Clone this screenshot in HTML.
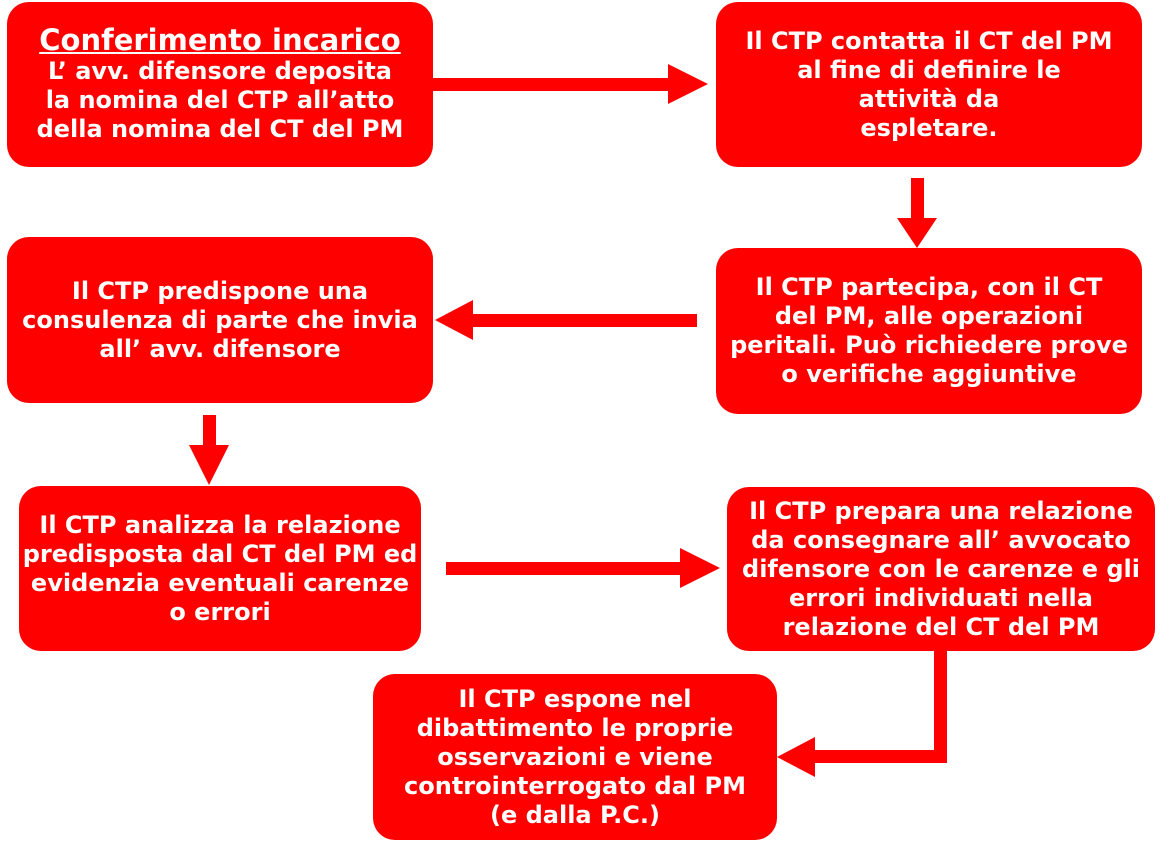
<!DOCTYPE html>
<html><head><meta charset="utf-8"><style>
body{margin:0;width:1162px;height:848px;background:#fff;position:relative;overflow:hidden;font-family:"DejaVu Sans","Liberation Sans",sans-serif;}
.b{position:absolute;background:#ff0000;border-radius:22px;color:#fff;font-weight:bold;font-size:24px;line-height:29px;display:flex;align-items:center;justify-content:center;text-align:center;box-sizing:border-box;}
.b div{white-space:nowrap}
svg{position:absolute;left:0;top:0}
</style></head><body>
<svg width="1162" height="848">
<g fill="#ff0000">
<rect x="433" y="78" width="235" height="13"/><polygon points="668,64 708,84 668,104"/>
<rect x="911" y="178" width="13" height="40"/><polygon points="897,218 937,218 917,248"/>
<rect x="473" y="314" width="224" height="13"/><polygon points="473,300 473,340 435,320"/>
<rect x="203" y="415" width="13" height="40"/><polygon points="189,445 229,445 209,485"/>
<rect x="446" y="562" width="234" height="13"/><polygon points="680,548 720,568 680,588"/>
<rect x="934" y="650" width="13" height="113"/><rect x="815" y="750" width="132" height="13"/><polygon points="815,737 815,777 777,757"/>
</g></svg>
<div class="b" style="left:7px;top:2px;width:426px;height:165px"><div><span style="text-decoration:underline;font-size:29px">Conferimento incarico</span><br>L’ avv. difensore deposita<br>la nomina del CTP all’atto<br>della nomina del CT del PM</div></div>
<div class="b" style="left:716px;top:2px;width:426px;height:165px"><div>Il CTP contatta il CT del PM<br>al fine di definire le<br>attività da<br>espletare.</div></div>
<div class="b" style="left:7px;top:237px;width:426px;height:166px"><div>Il CTP predispone una<br>consulenza di parte che invia<br>all’ avv. difensore</div></div>
<div class="b" style="left:716px;top:248px;width:426px;height:166px"><div>Il CTP partecipa, con il CT<br>del PM, alle operazioni<br>peritali. Può richiedere prove<br>o verifiche aggiuntive</div></div>
<div class="b" style="left:19px;top:486px;width:402px;height:165px"><div>Il CTP analizza la relazione<br>predisposta dal CT del PM ed<br>evidenzia eventuali carenze<br>o errori</div></div>
<div class="b" style="left:727px;top:487px;width:428px;height:164px"><div>Il CTP prepara una relazione<br>da consegnare all’ avvocato<br>difensore con le carenze e gli<br>errori individuati nella<br>relazione del CT del PM</div></div>
<div class="b" style="left:373px;top:674px;width:404px;height:166px"><div>Il CTP espone nel<br>dibattimento le proprie<br>osservazioni e viene<br>controinterrogato dal PM<br>(e dalla P.C.)</div></div>
</body></html>
